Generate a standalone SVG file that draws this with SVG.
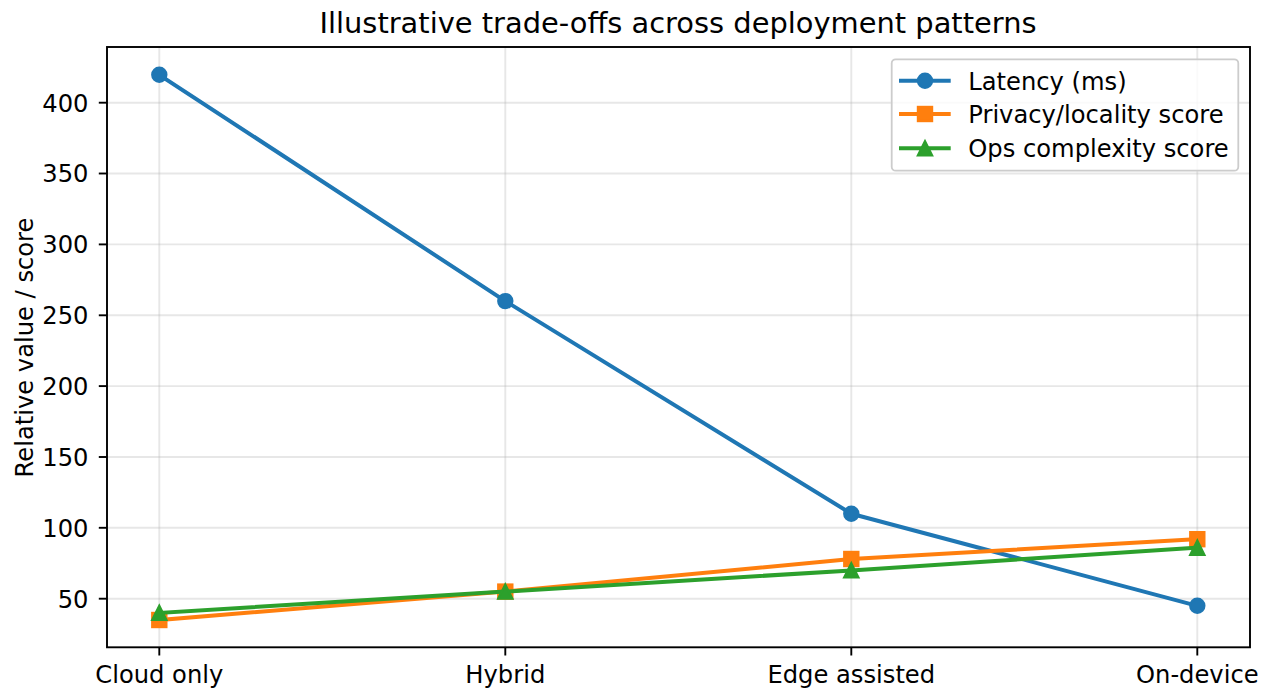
<svg xmlns="http://www.w3.org/2000/svg" width="1265" height="688" viewBox="0 0 1265 688">
<style>
text{font-family:"DejaVu Sans","Liberation Sans",sans-serif;fill:#000}
.tick{font-size:24.2px}
.yt{text-anchor:end}
.xt{text-anchor:middle}
.grid line{stroke:#b0b0b0;stroke-opacity:0.3;stroke-width:1.9}
.tm line{stroke:#000;stroke-width:1.9}
.lat{stroke:#1f77b4;fill:none;stroke-width:4;stroke-linejoin:round;stroke-linecap:square}
.pri{stroke:#ff7f0e;fill:none;stroke-width:4;stroke-linejoin:round;stroke-linecap:square}
.ops{stroke:#2ca02c;fill:none;stroke-width:4;stroke-linejoin:round;stroke-linecap:square}
.mlat{fill:#1f77b4;stroke:#1f77b4;stroke-width:2.3}
.mpri{fill:#ff7f0e;stroke:#ff7f0e;stroke-width:2.3}
.mops{fill:#2ca02c;stroke:#2ca02c;stroke-width:2.3;stroke-linejoin:miter}
.leg{font-size:24.2px}
</style>
<defs>
<circle id="mc" r="7.05"/>
<rect id="ms" x="-7.05" y="-7.05" width="14.1" height="14.1"/>
<path id="mt" d="M0,-7.05 L-7.05,7.05 L7.05,7.05 Z"/>
</defs>
<rect width="1265" height="688" fill="#fff"/>
<g id="grid" class="grid">
<line x1="159.3" y1="47" x2="159.3" y2="647.3"/>
<line x1="505.3" y1="47" x2="505.3" y2="647.3"/>
<line x1="851.3" y1="47" x2="851.3" y2="647.3"/>
<line x1="1197.3" y1="47" x2="1197.3" y2="647.3"/>
<line x1="107" y1="102.7" x2="1250" y2="102.7"/>
<line x1="107" y1="173.5" x2="1250" y2="173.5"/>
<line x1="107" y1="244.4" x2="1250" y2="244.4"/>
<line x1="107" y1="315.3" x2="1250" y2="315.3"/>
<line x1="107" y1="386.1" x2="1250" y2="386.1"/>
<line x1="107" y1="457" x2="1250" y2="457"/>
<line x1="107" y1="527.8" x2="1250" y2="527.8"/>
<line x1="107" y1="598.7" x2="1250" y2="598.7"/>
</g>
<g id="connectors">
<polyline class="lat" points="159.3,74.8 505.3,301.1 851.3,513.7 1197.3,605.8"/>
<g class="mlat">
<use href="#mc" x="159.3" y="74.8"/><use href="#mc" x="505.3" y="301.1"/><use href="#mc" x="851.3" y="513.7"/><use href="#mc" x="1197.3" y="605.8"/>
</g>
<polyline class="pri" points="159.3,620 505.3,591.6 851.3,559 1197.3,539.2"/>
<g class="mpri">
<use href="#ms" x="159.3" y="620"/><use href="#ms" x="505.3" y="591.6"/><use href="#ms" x="851.3" y="559"/><use href="#ms" x="1197.3" y="539.2"/>
</g>
<polyline class="ops" points="159.3,612.9 505.3,591.6 851.3,570.4 1197.3,547.7"/>
<g class="mops">
<use href="#mt" x="159.3" y="612.9"/><use href="#mt" x="505.3" y="591.6"/><use href="#mt" x="851.3" y="570.4"/><use href="#mt" x="1197.3" y="547.7"/>
</g>
</g>
<g id="axes">
<rect x="107" y="47" width="1143" height="600.3" fill="none" stroke="#000" stroke-width="1.9"/>
<g class="tm">
<line x1="98.8" y1="102.7" x2="107" y2="102.7"/>
<line x1="98.8" y1="173.5" x2="107" y2="173.5"/>
<line x1="98.8" y1="244.4" x2="107" y2="244.4"/>
<line x1="98.8" y1="315.3" x2="107" y2="315.3"/>
<line x1="98.8" y1="386.1" x2="107" y2="386.1"/>
<line x1="98.8" y1="457" x2="107" y2="457"/>
<line x1="98.8" y1="527.8" x2="107" y2="527.8"/>
<line x1="98.8" y1="598.7" x2="107" y2="598.7"/>
<line x1="159.3" y1="647.3" x2="159.3" y2="655.5"/>
<line x1="505.3" y1="647.3" x2="505.3" y2="655.5"/>
<line x1="851.3" y1="647.3" x2="851.3" y2="655.5"/>
<line x1="1197.3" y1="647.3" x2="1197.3" y2="655.5"/>
</g>
<g class="tick yt">
<text x="88.5" y="111.6">400</text>
<text x="88.5" y="182.4">350</text>
<text x="88.5" y="253.3">300</text>
<text x="88.5" y="324.2">250</text>
<text x="88.5" y="395">200</text>
<text x="88.5" y="465.9">150</text>
<text x="88.5" y="536.7">100</text>
<text x="88.5" y="607.6">50</text>
</g>
<g class="tick xt">
<text x="159.3" y="682.7">Cloud only</text>
<text x="505.3" y="682.7">Hybrid</text>
<text x="851.3" y="682.7">Edge assisted</text>
<text x="1197.3" y="682.7">On-device</text>
</g>
<text class="tick" text-anchor="middle" transform="translate(33.3,347.5) rotate(-90)">Relative value / score</text>
<text x="678" y="33.3" text-anchor="middle" style="font-size:28.9px">Illustrative trade-offs across deployment patterns</text>
</g>
<g id="legend">
<rect x="891.7" y="59.3" width="346.6" height="111.4" rx="4" fill="#fff" fill-opacity="0.8" stroke="#cccccc" stroke-width="1.8"/>
<line class="lat" x1="901" y1="80.7" x2="948.7" y2="80.7"/>
<use class="mlat" href="#mc" x="925" y="80.7"/>
<line class="pri" x1="901" y1="114" x2="948.7" y2="114"/>
<use class="mpri" href="#ms" x="925" y="114"/>
<line class="ops" x1="901" y1="148.3" x2="948.7" y2="148.3"/>
<use class="mops" href="#mt" x="925" y="148.3"/>
<text class="leg" x="968.3" y="89.5">Latency (ms)</text>
<text class="leg" x="968.3" y="122.8">Privacy/locality score</text>
<text class="leg" x="968.3" y="157.1">Ops complexity score</text>
</g>
</svg>
